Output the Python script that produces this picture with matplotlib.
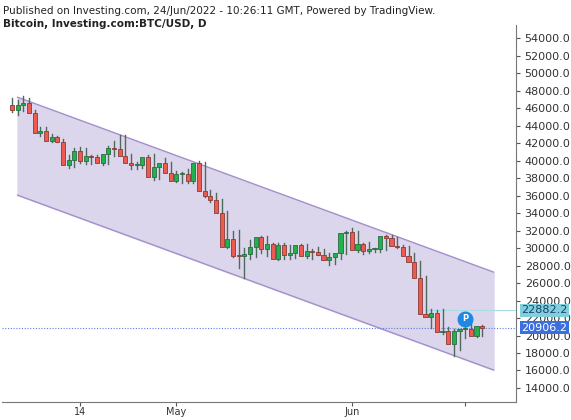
import matplotlib
matplotlib.use("Agg")
import matplotlib.pyplot as plt
import matplotlib.dates as mdates
import numpy as np
import datetime as dt

start = dt.date(2022, 4, 2)
opens = [46400,45800,46400,46600,45500,43200,43450,42300,42750,42150,39500,40100,41150,39950,40550,40400,39700,40800,41500,41350,
         40500,39700,39450,39450,40450,38100,39250,39750,38600,37650,38470,38520,37720,39700,36550,36000,35500,34050,30100,31000,
         29100,29050,29300,30100,31300,29850,30450,28700,30300,29200,29450,30300,29100,29650,29550,29200,28600,29000,29450,31700,
         31800,29800,30450,29700,29850,29900,31350,31100,30200,30100,29100,28400,26600,22500,22150,22600,20400,20500,19000,20550,
         20700,20750,19950,21100]
closes = opens[1:] + [20906]
highs = [47200,46900,47400,47200,45800,43900,43900,43000,42800,42500,40600,41500,41550,41400,40700,40700,40600,41700,42200,42900,
         42900,40800,39900,39900,40700,40800,39400,40300,39900,38800,38700,39100,38600,40000,39800,36600,36300,35600,34200,32000,
         32100,30000,30900,30300,31400,31400,30600,30600,30600,30300,29800,30500,30500,29900,30100,29900,29400,29200,29500,32000,
         32300,31900,30600,30700,30000,30000,31500,31500,31300,30300,30200,29400,28500,26800,23000,22900,23000,21000,20800,20800,
         21300,21500,21000,21200]
lows = [45600,45200,45700,46000,45300,42800,43000,42100,42100,42000,39200,39300,39700,39600,39600,40000,39500,39600,40500,40900,
        40000,39100,39100,39200,38700,37800,37900,38700,38200,37600,37400,37500,37400,37600,35800,35300,35200,33800,30000,29000,
        27700,26600,28700,29000,29400,29100,29000,28600,28700,28700,28900,29300,28900,28800,29200,28800,28100,28200,28800,29300,
        31200,29500,29300,29400,29500,29500,29800,30800,30000,30000,28900,28100,26600,22300,20900,21000,20200,20100,17600,18300,
        19700,20400,19800,19900]
last_price = 20906.2
marker_price = 22882.2
chan_dates = [dt.date(2022, 4, 3), dt.date(2022, 6, 26)]
chan_upper = [47257, 27257]
chan_lower = [36057, 16057]
ytick_vals = list(range(14000, 54001, 2000))

dates = [start + dt.timedelta(days=i) for i in range(len(opens))]
x = mdates.date2num(dates)

fig = plt.figure(figsize=(5.71, 4.2), dpi=100)
ax = fig.add_axes([0.003, 0.043, 0.9, 0.897])
cx = mdates.date2num(chan_dates)
ax.fill_between(cx, chan_lower, chan_upper, color='#dcd6ec', zorder=0)
ax.plot(cx, chan_upper, color='#a590cc', lw=1, zorder=1)
ax.plot(cx, chan_lower, color='#a590cc', lw=1, zorder=1)

for xi, o, h, l, c in zip(x, opens, highs, lows, closes):
    up = c >= o
    fc = '#22b24c' if up else '#ec5a50'
    ec = '#2d6a45' if up else '#8a3a34'
    ax.plot([xi, xi], [l, h], color='#4f6a5c', lw=1, zorder=2)
    b = max(abs(c - o), 120)
    ax.bar(xi, b, bottom=min(o, c), width=0.72, color=fc, edgecolor=ec, lw=0.6, zorder=3)

ax.axhline(last_price, color='#5b7fe0', lw=0.8, ls=(0, (1, 1.5)), zorder=1)
ax.plot([mdates.date2num(dt.date(2022, 6, 14)), ax.get_xlim()[1] + 100], [marker_price] * 2, color='#a8dde6', lw=0.8, zorder=1)
px = mdates.date2num(dt.date(2022, 6, 21))
ax.scatter([px], [21900], s=110, color='#1e88e5', zorder=4)
ax.text(px, 21900, 'P', color='white', fontsize=6, fontweight='bold', ha='center', va='center', zorder=5)

ax.set_xlim(mdates.date2num(dt.date(2022, 4, 14)) - 13.8, mdates.date2num(dt.date(2022, 6, 1)) + 28.9)
ax.set_ylim(12400, 55500)
ax.yaxis.tick_right()
ax.set_yticks(ytick_vals)
ax.set_yticklabels([f'{v:.1f}' for v in ytick_vals], fontsize=8, color='#333333')
ax.set_xticks(mdates.date2num([dt.date(2022, 4, 14), dt.date(2022, 5, 1), dt.date(2022, 6, 1), dt.date(2022, 6, 21)]))
ax.set_xticklabels(['14', 'May', 'Jun', ''], fontsize=7, color='#333333')
ax.tick_params(axis='x', length=3, pad=1, color='#555555')
ax.tick_params(axis='y', length=3, color='#555555')
for s in ['top', 'left']:
    ax.spines[s].set_visible(False)
ax.spines['right'].set_color('#777777')
ax.spines['bottom'].set_color('#777777')

for val, bg, tc in [(marker_price, '#7fcfdc', '#1d3f6e'), (last_price, '#3b6fe0', 'white')]:
    ax.annotate(f'{val:.1f}', xy=(1.0, val), xycoords=('axes fraction', 'data'), xytext=(4, 0),
                textcoords='offset points', fontsize=8, color=tc, va='center', ha='left',
                bbox=dict(boxstyle='square,pad=0.15', fc=bg, ec='none'))

fig.text(0.005, 0.985, 'Published on Investing.com, 24/Jun/2022 - 10:26:11 GMT, Powered by TradingView.',
         fontsize=7.5, va='top', color='#222222')
fig.text(0.005, 0.955, 'Bitcoin, Investing.com:BTC/USD, D', fontsize=7.5, fontweight='bold', va='top', color='#222222')
fig.savefig('out.png', dpi=100)
